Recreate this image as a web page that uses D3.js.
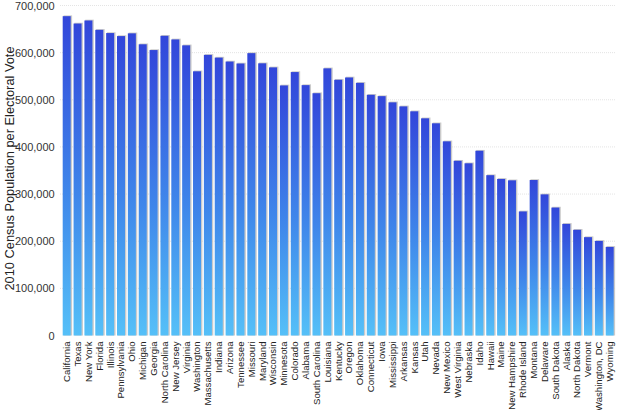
<!DOCTYPE html>
<html>
<head>
<meta charset="utf-8">
<script src="https://cdn.jsdelivr.net/npm/d3@7"></script>
<style>
  body { margin: 0; background: #fff; }
  svg { display: block; font-family: "Liberation Sans", Arial, sans-serif; }
</style>
</head>
<body>
<div id="chart"></div>
<script>
// 2010 census population per electoral vote, in chart order
const STATES = [
  'California', 'Texas', 'New York', 'Florida', 'Illinois', 'Pennsylvania', 'Ohio',
  'Michigan', 'Georgia', 'North Carolina', 'New Jersey', 'Virginia', 'Washington',
  'Massachusetts', 'Indiana', 'Arizona', 'Tennessee', 'Missouri', 'Maryland',
  'Wisconsin', 'Minnesota', 'Colorado', 'Alabama', 'South Carolina', 'Louisiana',
  'Kentucky', 'Oregon', 'Oklahoma', 'Connecticut', 'Iowa', 'Mississippi', 'Arkansas',
  'Kansas', 'Utah', 'Nevada', 'New Mexico', 'West Virginia', 'Nebraska', 'Idaho',
  'Hawaii', 'Maine', 'New Hampshire', 'Rhode Island', 'Montana', 'Delaware',
  'South Dakota', 'Alaska', 'North Dakota', 'Vermont', 'Washington, DC', 'Wyoming'
];
const POP_PER_VOTE = [
  677345, 661725, 668210, 648321, 641532, 635119, 640917,
  617728, 605478, 635699, 627992, 615463, 560378,
  595239, 589437, 581092, 576919, 598893, 577355,
  568699, 530393, 558800, 531082, 513929, 566672,
  542421, 547296, 535907, 510585, 507726, 494550, 485986,
  475520, 460648, 450092, 411836, 370599, 365268, 391896,
  340075, 332090, 329118, 263142, 329805, 299311,
  271393, 236744, 224197, 208580, 200574, 187875
];
const Y_TICKS = [0, 100000, 200000, 300000, 400000, 500000, 600000, 700000];

const W = 620, H = 410;
const PLOT = { left: 62.7, right: 613.7, top: 5.5, bottom: 335.5 };

const svg = d3.select('#chart').append('svg').attr('width', W).attr('height', H);

const grad = svg.append('defs').append('linearGradient')
  .attr('id', 'barGrad').attr('x1', 0).attr('y1', 0).attr('x2', 0).attr('y2', 1);
grad.append('stop').attr('offset', '0%').attr('stop-color', '#3246da');
grad.append('stop').attr('offset', '55%').attr('stop-color', '#3f86ea');
grad.append('stop').attr('offset', '100%').attr('stop-color', '#55c0f8');

const x = d3.scaleBand().domain(STATES).range([PLOT.left, PLOT.right])
  .paddingInner(0.263).paddingOuter(0);
const y = d3.scaleLinear().domain([0, 700000]).range([PLOT.bottom, PLOT.top]);

// dotted gridlines
svg.append('g').selectAll('line')
  .data(Y_TICKS.filter((t) => t > 0))
  .join('line')
  .attr('x1', 60).attr('x2', 616)
  .attr('y1', (d) => y(d)).attr('y2', (d) => y(d))
  .attr('stroke', '#e4e4e4').attr('stroke-width', 1)
  .attr('stroke-dasharray', '1,1');

const rows = STATES.map((s, i) => ({ state: s, value: POP_PER_VOTE[i] }));

// soft shadow behind bars
svg.append('g').selectAll('rect')
  .data(rows)
  .join('rect')
  .attr('x', (d) => x(d.state) + 0.8)
  .attr('y', (d) => y(d.value) - 0.8)
  .attr('width', x.bandwidth() + 0.6)
  .attr('height', (d) => PLOT.bottom - y(d.value) + 0.8)
  .attr('fill', '#bdbdbd')
  .attr('opacity', 0.8);

svg.append('g').selectAll('rect')
  .data(rows)
  .join('rect')
  .attr('x', (d) => x(d.state))
  .attr('y', (d) => y(d.value))
  .attr('width', x.bandwidth())
  .attr('height', (d) => PLOT.bottom - y(d.value))
  .attr('fill', 'url(#barGrad)');

// y axis
const yAxis = svg.append('g')
  .attr('transform', `translate(${PLOT.left - 8},0)`)
  .call(d3.axisLeft(y).tickValues(Y_TICKS).tickFormat(d3.format(',')).tickSize(0).tickPadding(0));
yAxis.select('.domain').remove();
yAxis.selectAll('text').attr('font-size', '11px').attr('fill', '#333')
  .attr('font-family', '"Liberation Sans", Arial, sans-serif');

// x axis labels
const xAxis = svg.append('g')
  .attr('transform', `translate(0,${PLOT.bottom})`)
  .call(d3.axisBottom(x).tickSize(0).tickPadding(0));
xAxis.select('.domain').remove();
xAxis.selectAll('text')
  .attr('font-size', '9.6px').attr('fill', '#222')
  .attr('font-family', '"Liberation Sans", Arial, sans-serif')
  .attr('text-anchor', 'end')
  .attr('y', 0)
  .attr('dy', '0.35em')
  .attr('transform', 'translate(0,6) rotate(-90)');

svg.append('text')
  .attr('transform', `translate(14,${(PLOT.top + PLOT.bottom) / 2 - 2}) rotate(-90)`)
  .attr('text-anchor', 'middle')
  .attr('font-size', '12.8px')
  .attr('fill', '#222')
  .text('2010 Census Population per Electoral Vote');
</script>
</body>
</html>
